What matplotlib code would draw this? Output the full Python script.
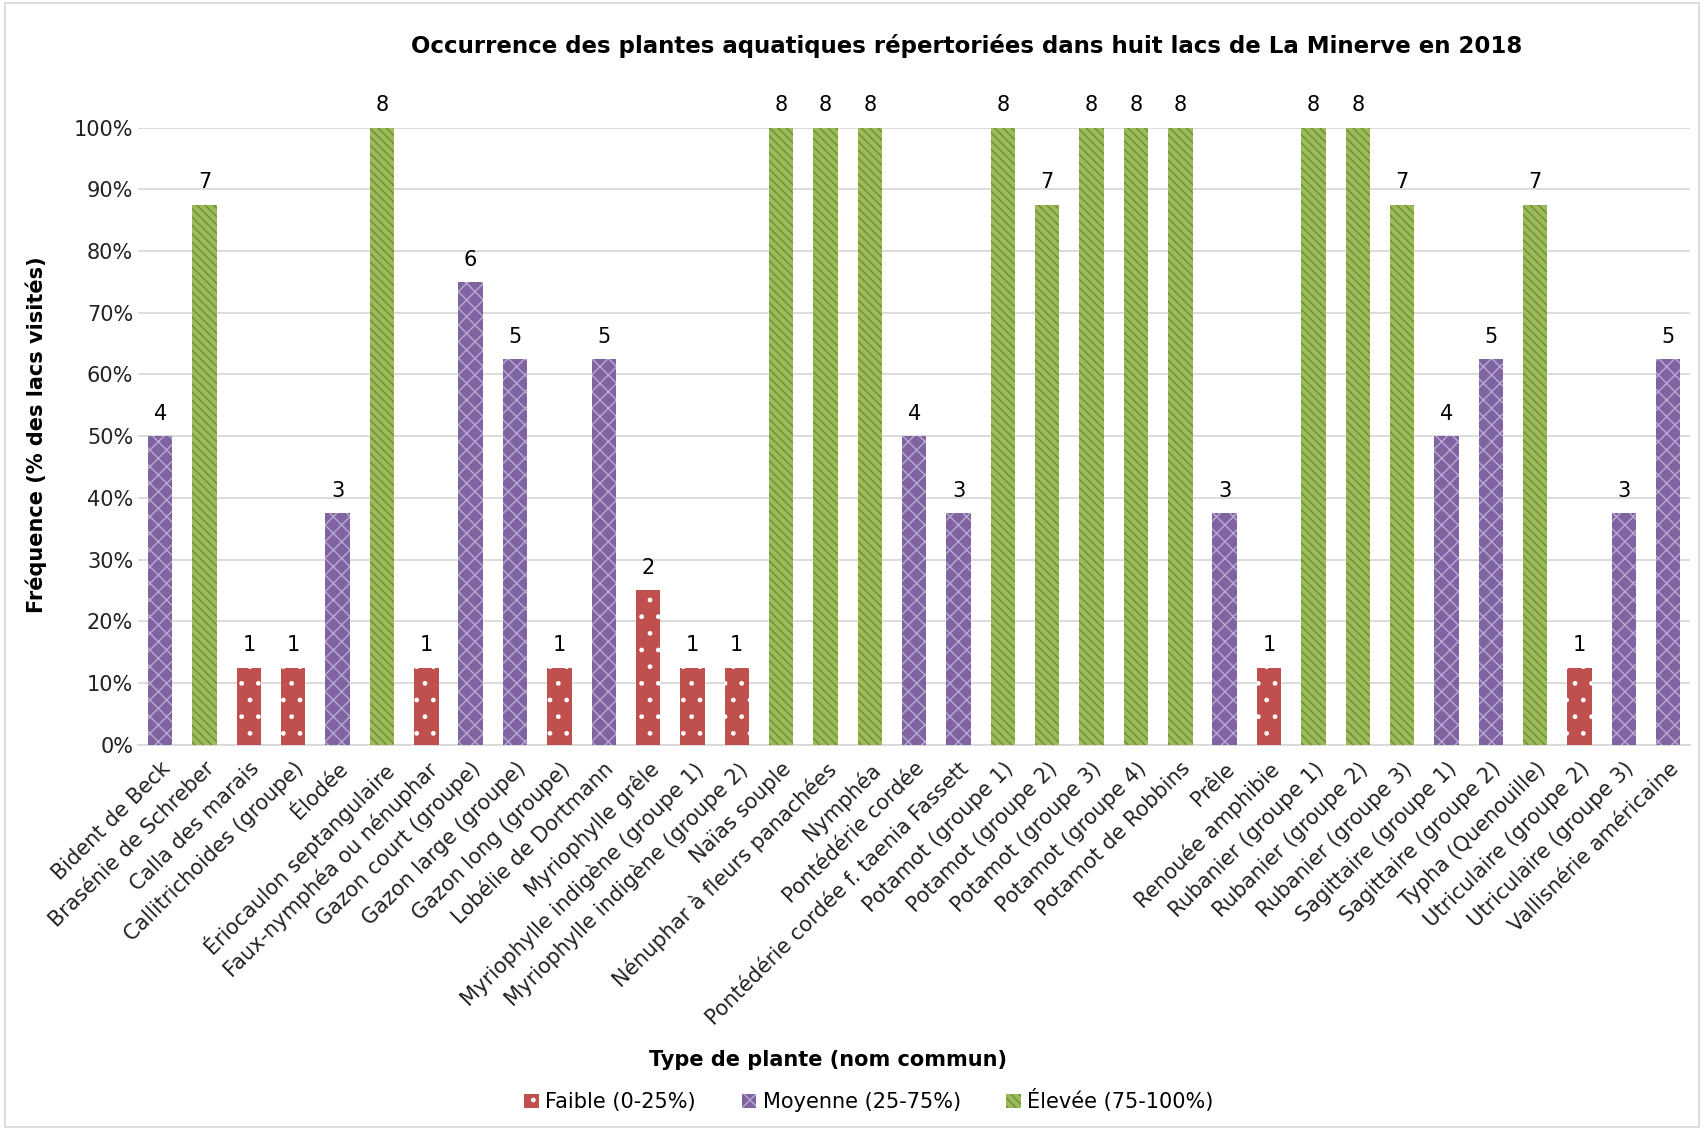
import matplotlib.pyplot as plt
from matplotlib.patches import Patch, Rectangle
from matplotlib.ticker import PercentFormatter
import numpy as np

plt.rcParams['font.family'] = ['DejaVu Sans']
plt.rcParams['hatch.linewidth'] = 1.0

# donnees
plantes = ['Bident de Beck', 'Brasénie de Schreber', 'Calla des marais',
           'Callitrichoides (groupe)', 'Élodée', 'Ériocaulon septangulaire',
           'Faux-nymphéa ou nénuphar', 'Gazon court (groupe)', 'Gazon large (groupe)',
           'Gazon long (groupe)', 'Lobélie de Dortmann', 'Myriophylle grêle',
           'Myriophylle indigène (groupe 1)', 'Myriophylle indigène (groupe 2)',
           'Naïas souple', 'Nénuphar à fleurs panachées', 'Nymphéa', 'Pontédérie cordée',
           'Pontédérie cordée f. taenia Fassett', 'Potamot (groupe 1)', 'Potamot (groupe 2)',
           'Potamot (groupe 3)', 'Potamot (groupe 4)', 'Potamot de Robbins', 'Prêle',
           'Renouée amphibie', 'Rubanier (groupe 1)', 'Rubanier (groupe 2)',
           'Rubanier (groupe 3)', 'Sagittaire (groupe 1)', 'Sagittaire (groupe 2)',
           'Typha (Quenouille)', 'Utriculaire (groupe 2)', 'Utriculaire (groupe 3)',
           'Vallisnérie américaine']
nb_lacs = [4, 7, 1, 1, 3, 8, 1, 6, 5, 1, 5, 2, 1, 1, 8, 8, 8, 4, 3, 8, 7, 8, 8, 8, 3,
           1, 8, 8, 7, 4, 5, 7, 1, 3, 5]
classe = ['M', 'E', 'F', 'F', 'M', 'E', 'F', 'M', 'M', 'F', 'M', 'F', 'F', 'F', 'E',
          'E', 'E', 'M', 'M', 'E', 'E', 'E', 'E', 'E', 'M', 'F', 'E', 'E', 'E', 'M',
          'M', 'E', 'F', 'M', 'M']
total_lacs = 8

classes = ['F', 'M', 'E']
noms_classes = ['Faible (0-25%)', 'Moyenne (25-75%)', 'Élevée (75-100%)']
couleurs = {'F': '#C0504D', 'M': '#8064A2', 'E': '#9BBB59'}
hachures = {'F': '.', 'M': 'xx', 'E': '\\\\\\\\'}
couleurs_hach = {'F': 'white', 'M': '#B9A9D2', 'E': '#6E8C37'}

x = np.arange(len(plantes))
freq = np.array(nb_lacs) / total_lacs

fig = plt.figure(figsize=(17.04, 11.30), dpi=100)
ax = fig.add_axes([0.081, 0.341, 0.911, 0.546])

for c in classes:
    idx = [i for i in range(len(plantes)) if classe[i] == c]
    ax.bar(x[idx], freq[idx], width=0.55, color=couleurs[c], hatch=hachures[c],
           edgecolor=couleurs_hach[c], linewidth=0, zorder=3)

for i in range(len(plantes)):
    ax.text(x[i], freq[i] + 0.02, str(nb_lacs[i]), ha='center', va='bottom',
            fontsize=15, clip_on=False)

ax.set_xlim(-0.5, len(plantes) - 0.5)
ax.set_ylim(0, 1)
ax.set_yticks(np.arange(0, 1.01, 0.1))
ax.yaxis.set_major_formatter(PercentFormatter(1.0, decimals=0))
ax.grid(axis='y', color='#D9D9D9', linewidth=1.3, zorder=0)
ax.set_axisbelow(True)
for s in ['top', 'right', 'left']:
    ax.spines[s].set_visible(False)
ax.spines['bottom'].set_color('#D9D9D9')
ax.spines['bottom'].set_linewidth(1.3)
ax.tick_params(length=0, labelsize=15, colors='#222222')
ax.set_xticks(x)
ax.set_xticklabels(plantes, rotation=45, ha='right', rotation_mode='anchor', fontsize=15)
ax.tick_params(axis='x', pad=10)

fig.text(0.5675, 0.959, 'Occurrence des plantes aquatiques répertoriées dans huit lacs de La Minerve en 2018',
         ha='center', va='center', fontsize=16.5, fontweight='bold')
fig.text(0.021, 0.615, 'Fréquence (% des lacs visités)', rotation=90, ha='center', va='center',
         fontsize=15, fontweight='bold')
fig.text(0.486, 0.062, 'Type de plante (nom commun)', ha='center', va='center',
         fontsize=15, fontweight='bold')

handles = [Patch(facecolor=couleurs[c], hatch=hachures[c], edgecolor=couleurs_hach[c],
                 linewidth=0) for c in classes]
fig.legend(handles, noms_classes, loc='center', bbox_to_anchor=(0.51, 0.026), ncol=3,
           frameon=False, fontsize=15, handlelength=0.7, handleheight=0.7,
           handletextpad=0.3, columnspacing=2.2)

fig.patches.append(Rectangle((0.003, 0.003), 0.994, 0.994, transform=fig.transFigure,
                             fill=False, edgecolor='#D9D9D9', linewidth=1.3))

fig.savefig('out.png', dpi=100)
